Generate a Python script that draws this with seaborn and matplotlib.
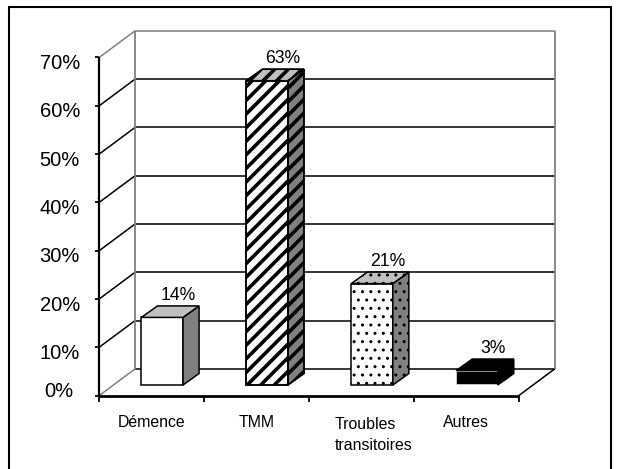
import numpy as np
import pandas as pd
import matplotlib
matplotlib.use("Agg")
import matplotlib.pyplot as plt
import matplotlib.transforms as mtransforms
from matplotlib.patches import Polygon
from matplotlib.lines import Line2D
import seaborn as sns

# ---- data -------------------------------------------------------------
categories = ["Démence", "TMM", "Troubles\ntransitoires", "Autres"]
values = [14, 63, 21, 3]
value_labels = ["14%", "63%", "21%", "3%"]
y_ticks = [0, 10, 20, 30, 40, 50, 60, 70]
y_tick_labels = ["0%", "10%", "20%", "30%", "40%", "50%", "60%", "70%"]

# ---- bar styling ------------------------------------------------------
face_colors = ["white", "white", "white", "black"]
front_edges = ["black", "black", "black", "white"]
side_colors = ["#808080", "#808080", "#808080", "black"]
top_colors = ["#c0c0c0", "#c0c0c0", "#c0c0c0", "black"]
fills = ["plain", "stripes", "dots", "plain"]

STRIPE_STEP = 13.6   # pixels between diagonal stripes
STRIPE_LW = 2.6      # stripe thickness (points)

sns.set_theme(style="white")
plt.rcParams["font.family"] = ["Liberation Sans", "DejaVu Sans"]

fig = plt.figure(figsize=(6.19, 4.69), dpi=100)
ax = fig.add_axes([0, 0, 1, 1])
ax.set_xlim(-1.4466, 4.4542)
ax.set_ylim(-15.217, 81.884)

df = pd.DataFrame({"categorie": categories, "valeur": values})

# oblique "3-D" projection, in data units
WALL_DX, WALL_DY = 0.340, 5.49     # depth of the walls / floor
BAR_DX, BAR_DY = 0.153, 2.38       # depth of each column
BAR_SHIFT, BAR_BASE = 0.10, 2.17   # columns stand in the middle of the floor
BAR_WIDTH = 0.396
LABEL_DX, LABEL_DY = 0.15, 3.7

BLACK, GRAY = "black", "#808080"
x_left, x_right = -0.5, len(categories) - 0.5
y_top = y_ticks[-1]


def add_stripes(patch, corners):
    """Diagonal black stripes clipped to a face of a column."""
    pix = ax.transData.transform(corners)
    xmin, ymin = pix.min(axis=0)
    xmax, ymax = pix.max(axis=0)
    for c in np.arange(ymin - xmax, ymax - xmin + STRIPE_STEP, STRIPE_STEP):
        ln = Line2D([xmin - 5, xmax + 5], [xmin - 5 + c, xmax + 5 + c],
                    color=BLACK, linewidth=STRIPE_LW, zorder=5.2,
                    transform=mtransforms.IdentityTransform())
        ln.set_clip_path(patch)
        fig.add_artist(ln)


# ---- front faces of the columns --------------------------------------
sns.barplot(data=df, x="categorie", y="valeur", order=categories,
            width=BAR_WIDTH, errorbar=None, bottom=BAR_BASE,
            color="white", edgecolor="black", linewidth=1.1,
            zorder=5, ax=ax)
ax.set_xlim(-1.4466, 4.4542)
ax.set_ylim(-15.217, 81.884)

shift = mtransforms.Affine2D().translate(BAR_SHIFT, 0) + ax.transData
bars = ax.containers[0]
for i, bar in enumerate(bars):
    bar.set_transform(shift)
    bar.set_facecolor(face_colors[i])
    bar.set_edgecolor(front_edges[i])
    hatch = ".." if fills[i] == "dots" else ""
    bar.set_hatch(hatch)

    x0 = bar.get_x() + BAR_SHIFT
    x1 = x0 + bar.get_width()
    y0 = bar.get_y()
    y1 = y0 + bar.get_height()

    front_pts = [(x0, y0), (x1, y0), (x1, y1), (x0, y1)]
    side_pts = [(x1, y0), (x1 + BAR_DX, y0 + BAR_DY),
                (x1 + BAR_DX, y1 + BAR_DY), (x1, y1)]
    top_pts = [(x0, y1), (x1, y1), (x1 + BAR_DX, y1 + BAR_DY),
               (x0 + BAR_DX, y1 + BAR_DY)]

    side = Polygon(side_pts, closed=True, facecolor=side_colors[i],
                   edgecolor=BLACK, linewidth=1.1, hatch=hatch, zorder=5)
    top = Polygon(top_pts, closed=True, facecolor=top_colors[i],
                  edgecolor=BLACK, linewidth=1.1, hatch=hatch, zorder=5)
    ax.add_patch(side)
    ax.add_patch(top)

    if fills[i] == "stripes":
        add_stripes(bar, front_pts)
        add_stripes(side, side_pts)
        add_stripes(top, top_pts)
        # redraw the outlines above the stripes
        for pts in (front_pts, side_pts, top_pts):
            ax.add_patch(Polygon(pts, closed=True, fill=False, edgecolor=BLACK,
                                 linewidth=1.1, zorder=5.4))

    ax.text((x0 + x1) / 2 + LABEL_DX, y1 + LABEL_DY, value_labels[i],
            ha="center", va="baseline", fontsize=12.7, color="black", zorder=6)

# ---- walls and floor --------------------------------------------------
def seg(xs, ys, color, lw, z=1):
    ax.add_line(Line2D(xs, ys, color=color, linewidth=lw, zorder=z,
                       solid_capstyle="butt"))

bx0, bx1 = x_left + WALL_DX, x_right + WALL_DX
for v in y_ticks:
    edge = v == y_top
    # back wall gridline
    seg([bx0, bx1], [v + WALL_DY, v + WALL_DY], GRAY if edge else BLACK, 1.1)
    # side wall diagonal
    seg([x_left, bx0], [v, v + WALL_DY], GRAY if v in (0, y_top) else BLACK, 1.1)
    # tick on the value axis
    seg([x_left - 0.045, x_left], [v, v], BLACK, 1.3, 3)

# back wall verticals
seg([bx0, bx0], [WALL_DY, y_top + WALL_DY], GRAY, 1.3)
seg([bx1, bx1], [WALL_DY, y_top + WALL_DY], GRAY, 1.3)

# floor: front edge and right side
seg([x_left, x_right], [0, 0], BLACK, 2.0, 3)
seg([x_right, bx1], [0, WALL_DY], BLACK, 1.1, 3)
# value axis
seg([x_left, x_left], [0, y_top], BLACK, 1.6, 3)
# category separators
for k in range(len(categories) + 1):
    seg([x_left + k, x_left + k], [0, -1.3], BLACK, 1.3, 3)

# ---- tick labels -------------------------------------------------------
for v, lab in zip(y_ticks, y_tick_labels):
    if v == 0:
        ax.text(x_left - 0.25, v - 0.41, lab, ha="right", va="baseline",
                fontsize=14.5, color="black")
    else:
        ax.text(x_left - 0.184, v - 2.42, lab, ha="right", va="baseline",
                fontsize=14.5, color="black")

LINE_STEP = 4.62  # vertical distance between wrapped label lines
for i, lab in enumerate(categories):
    n_extra = lab.count("\n")
    ax.text(i + (0.114 if n_extra else 0.0), -6.6 - LINE_STEP * n_extra, lab,
            ha="center", va="baseline", multialignment="left",
            linespacing=1.45, fontsize=11.4, color="black")

ax.set_axis_off()

# ---- outer frame ---------------------------------------------------------
fl, fr, ft = 8.5 / 619, 611 / 619, 1 - 7 / 469
for xs, ys in (([fl, fl], [0, ft]), ([fl, fr], [ft, ft]), ([fr, fr], [ft, 0])):
    fig.add_artist(Line2D(xs, ys, color="black", linewidth=1.5,
                          transform=fig.transFigure))

fig.savefig("out.png", dpi=100)
